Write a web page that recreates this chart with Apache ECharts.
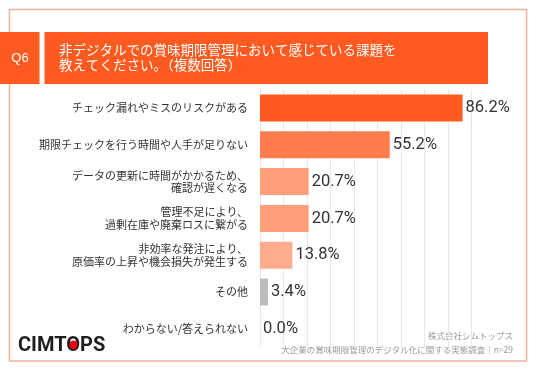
<!DOCTYPE html>
<html><head><meta charset="utf-8">
<script src="https://cdn.jsdelivr.net/npm/echarts@6/dist/echarts.min.js"></script>
<style>html,body{margin:0;padding:0;background:#fff}#c{width:536px;height:371px}</style>
</head><body><div id="c"></div>
<script>
const categories = [
  'チェック漏れやミスのリスクがある',
  '期限チェックを行う時間や人手が足りない',
  'データの更新に時間がかかるため、\n確認が遅くなる',
  '管理不足により、\n過剰在庫や廃棄ロスに繋がる',
  '非効率な発注により、\n原価率の上昇や機会損失が発生する',
  'その他',
  'わからない/答えられない'
];
const values = [86.2, 55.2, 20.7, 20.7, 13.8, 3.4, 0.0];
const barColors = ['#FF5A1F', '#FF7C4C', '#FF9E7B', '#FF9E7B', '#FFAC8C', '#BDBDBD', '#BDBDBD'];
const qLabel = 'Q6';
const titleLines = ['非デジタルでの賞味期限管理において感じている課題を', '教えてください。（複数回答）'];
const footerLines = ['株式会社シムトップス', '大企業の賞味期限管理のデジタル化に関する実態調査｜n=29'];
const logoText = 'CIMTOPS';

const jp = '"Noto Sans CJK JP", "Noto Sans", sans-serif';
const chart = echarts.init(document.getElementById('c'), null, {renderer: 'canvas'});

const cv = document.createElement('canvas').getContext('2d');
cv.font = 'bold 20px Roboto';
const wCIMT = cv.measureText('CIMT').width;
const wO = cv.measureText('O').width;
const logoX = 18, logoY = 346;

chart.setOption({
  animation: false,
  grid: {left: 260, right: 41, top: 89.6, height: 257.6, containLabel: false},
  xAxis: {
    type: 'value', min: 0, max: 100, interval: 10,
    axisLabel: {show: false}, axisLine: {show: false}, axisTick: {show: false},
    splitLine: {show: true, showMaxLine: false, lineStyle: {color: '#e8e8e8', width: 1}}
  },
  yAxis: {
    type: 'category', data: categories, inverse: true,
    axisLine: {show: false}, axisTick: {show: false},
    axisLabel: {color: '#333', fontSize: 11, fontFamily: jp, margin: 12, lineHeight: 12.5, align: 'right'}
  },
  series: [{
    type: 'bar', barWidth: 27,
    data: values.map((v, i) => ({value: v, itemStyle: {color: barColors[i]}})),
    label: {
      show: true, position: 'right', distance: 3,
      color: '#333', fontSize: 16.5, fontFamily: 'Roboto, "Noto Sans", sans-serif',
      formatter: p => p.value.toFixed(1) + '%'
    }
  }],
  graphic: [
    {type: 'rect', shape: {x: 9.5, y: 9.5, width: 517, height: 351.5}, style: {fill: null, stroke: '#F0B396', lineWidth: 1.5}, z: -1},
    {type: 'rect', shape: {x: 0, y: 32, width: 39.5, height: 52}, style: {fill: '#FF5A1F'}},
    {type: 'rect', shape: {x: 44.5, y: 32, width: 443.5, height: 52}, style: {fill: '#FF5A1F'}},
    {type: 'text', x: 20, y: 58, style: {text: qLabel, fill: '#fff', font: '13px "Liberation Sans", Arial, sans-serif', textAlign: 'center', textVerticalAlign: 'middle'}},
    {type: 'text', x: 59, y: 57.5, style: {text: titleLines.join('\n'), fill: '#fff', fontSize: 13.5, fontFamily: jp, lineHeight: 15, textAlign: 'left', textVerticalAlign: 'middle'}},
    {type: 'text', x: 513, y: 342.5, style: {text: footerLines.join('\n'), fill: '#9a9a9a', fontSize: 8.5, fontFamily: jp, lineHeight: 13.6, textAlign: 'right', textVerticalAlign: 'middle'}},
    {type: 'text', x: logoX, y: logoY, style: {text: logoText, fill: '#1e1e1e', font: 'bold 20px Roboto', textAlign: 'left', textVerticalAlign: 'middle'}},
    {type: 'circle', shape: {cx: logoX + wCIMT + wO / 2, cy: logoY - 1.2, r: 4.2}, style: {fill: '#E60012'}, z: 10}
  ]
});
</script></body></html>
